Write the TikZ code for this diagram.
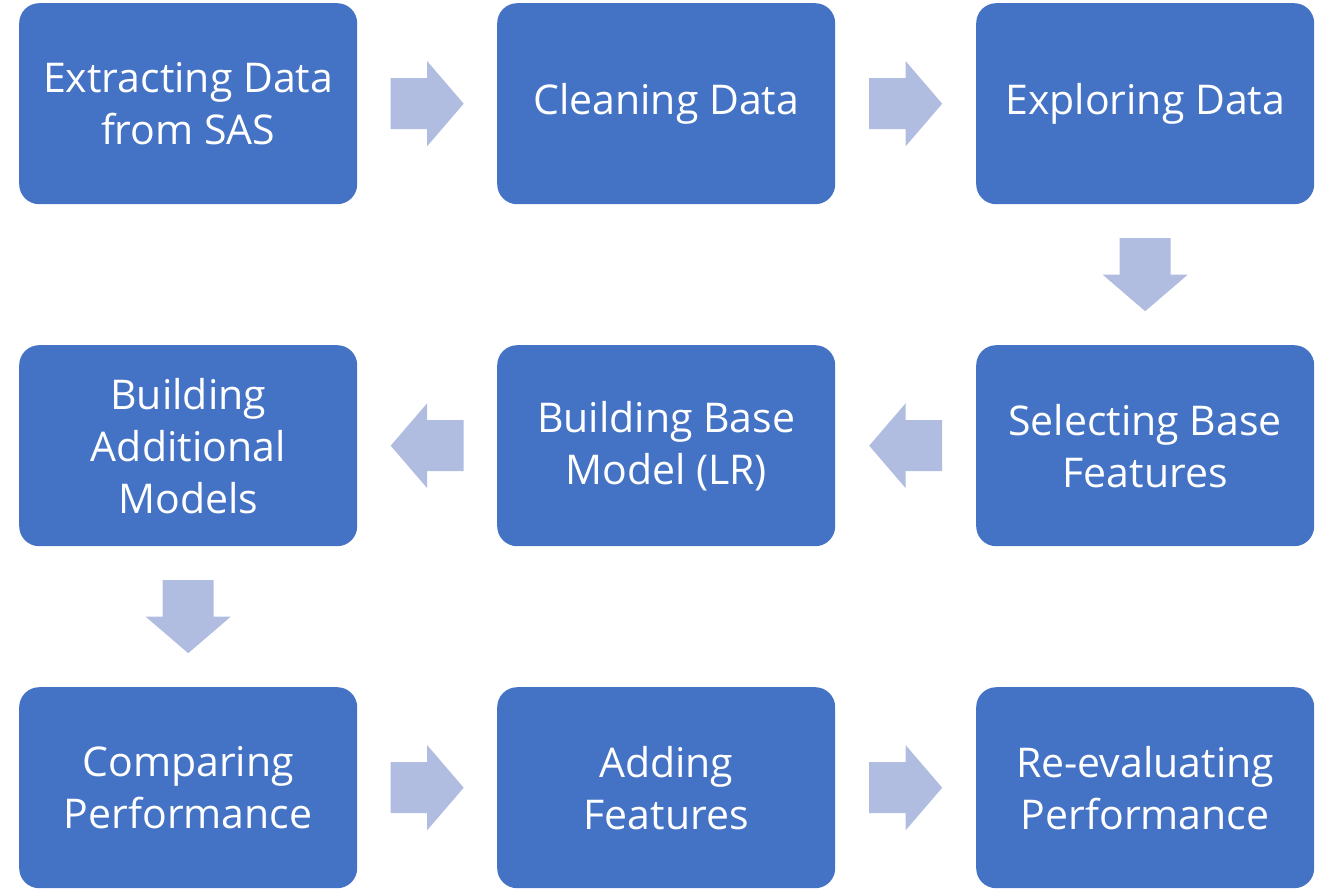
\documentclass[tikz,border=0pt]{standalone}
\usepackage{fontspec}
\setmainfont{Open Sans}
\usetikzlibrary{calc}
\definecolor{boxblue}{RGB}{68,114,196}
\definecolor{arrowblue}{RGB}{176,189,224}
\tikzset{
  stepbox/.style={draw=none, fill=boxblue, rounded corners=20pt, minimum width=338pt, minimum height=201pt,
    text=white, align=center, font=\fontsize{41}{52}\selectfont, inner sep=0pt, anchor=north west},
  blockarrow/.style={fill=arrowblue, draw=none},
  pics/barrow/.style={code={
    \fill[arrowblue] (-36.5,-25.5) -- (0,-25.5) -- (0,-42.5) -- (36.5,0) -- (0,42.5) -- (0,25.5) -- (-36.5,25.5) -- cycle;
  }}
}
\begin{document}
\begin{tikzpicture}[x=1pt,y=-1pt]
\useasboundingbox (0,0) rectangle (1334,891);
\node[stepbox] (b1) at (19,3) {Extracting Data\\from SAS};
\node[stepbox] (b2) at (497,3) {Cleaning Data};
\node[stepbox] (b3) at (976,3) {Exploring Data};
\node[stepbox] (b4) at (976,345) {Selecting Base\\Features};
\node[stepbox] (b5) at (497,345) {Building Base\\Model (LR)};
\node[stepbox] (b6) at (19,345) {Building\\Additional\\Models};
\node[stepbox] (b7) at (19,687) {Comparing\\Performance};
\node[stepbox] (b8) at (497,687) {Adding\\Features};
\node[stepbox] (b9) at (976,687) {Re-evaluating\\Performance};
\coordinate (a1) at ($(b1.east)!0.5!(b2.west)$);
\coordinate (a2) at ($(b2.east)!0.5!(b3.west)$);
\coordinate (a3) at ($(b3.south)!0.5!(b4.north)$);
\coordinate (a4) at ($(b4.west)!0.5!(b5.east)$);
\coordinate (a5) at ($(b5.west)!0.5!(b6.east)$);
\coordinate (a6) at ($(b6.south)!0.5!(b7.north)$);
\coordinate (a7) at ($(b7.east)!0.5!(b8.west)$);
\coordinate (a8) at ($(b8.east)!0.5!(b9.west)$);
\pic at (a1) {barrow};
\pic at (a2) {barrow};
\pic[rotate=-90] at (a3) {barrow};
\pic[rotate=180] at (a4) {barrow};
\pic[rotate=180] at (a5) {barrow};
\pic[rotate=-90] at (a6) {barrow};
\pic at (a7) {barrow};
\pic at (a8) {barrow};
\end{tikzpicture}
\end{document}
